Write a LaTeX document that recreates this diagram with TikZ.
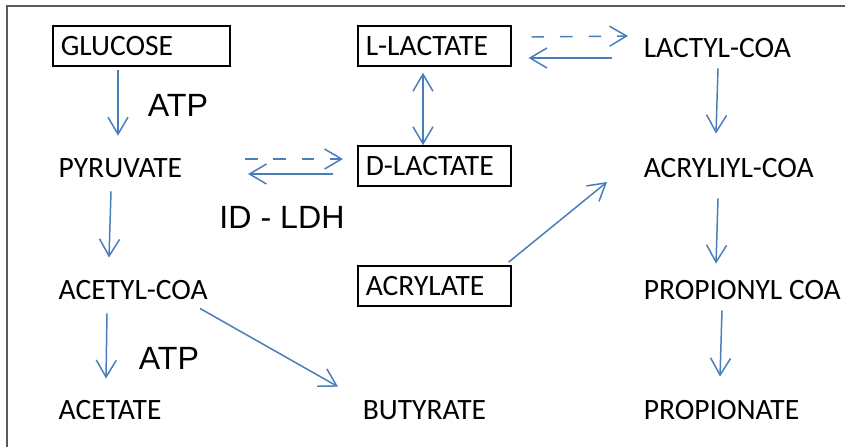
\documentclass[tikz,border=0pt]{standalone}
\usepackage{fontspec}
\setmainfont{Carlito}
\newfontfamily\arialfont{Liberation Sans}
\usetikzlibrary{arrows.meta, positioning, calc}
\definecolor{arrowblue}{RGB}{74,126,187}
\definecolor{framegray}{RGB}{90,90,90}

\begin{document}
\begin{tikzpicture}[x=0.02cm, y=-0.02cm, ->, >={Straight Barb[length=0.34cm, width=0.4cm]},
  line width=0.85pt, arrowblue,
  box node/.style={rectangle, draw=black, line width=0.9pt, text=black, anchor=west,
    minimum height=0.8cm, text width=2.74cm, inner xsep=0.16cm, align=left,
    font=\fontsize{16.8pt}{19pt}\selectfont},
  txt node/.style={anchor=west, inner sep=0pt, text=black, font=\fontsize{16.8pt}{19pt}\selectfont},
  lbl node/.style={inner sep=0pt, text=black, font=\arialfont\fontsize{18.3pt}{21pt}\selectfont},
  dsh/.style={dash pattern=on 0.25cm off 0.32cm}]
  \useasboundingbox (0,0) rectangle (845,447);
  \draw[-, framegray, line width=1.1pt] (845,6) -- (7,6) -- (7,447);

  \node[box node, text width=3.22cm] (glc) at (52,46) {GLUCOSE};
  \node[box node] (llac) at (357,46) {L-LACTATE};
  \node[txt node] (lcoa) at (643,48) {LACTYL-COA};
  \node[txt node] (pyr) at (58,168) {PYRUVATE};
  \node[box node] (dlac) at (357,166) {D-LACTATE};
  \node[txt node] (acoa) at (643,168) {ACRYLIYL-COA};
  \node[txt node] (acet) at (58,290) {ACETYL-COA};
  \node[box node] (acrl) at (357,286) {ACRYLATE};
  \node[txt node] (prcoa) at (643,290) {PROPIONYL COA};
  \node[txt node] (ace) at (58,410) {ACETATE};
  \node[txt node] (but) at (362,410) {BUTYRATE};
  \node[txt node] (prop) at (643,410) {PROPIONATE};

  \node[lbl node] (atp1) at (178,105) {ATP};
  \node[lbl node] (ldh) at (282,217) {ID - LDH};
  \node[lbl node] (atp2) at (169,358) {ATP};

  \draw ($(glc.south west)+(66,3)$) -- ($(pyr.north west)+(60,-22)$);
  \draw ($(pyr.south west)+(53,13)$) -- ($(acet.north west)+(51,-22)$);
  \draw ($(acet.south west)+(49,13)$) -- ($(ace.north west)+(48,-21)$);
  \draw ($(acet.south west)+(142,8)$) -- ($(but.north west)+(-24,-13)$);
  \draw[<->] ($(llac.south west)+(66,6)$) -- ($(dlac.north west)+(66,0)$);
  \draw[dsh] ($(pyr.west)+(187,-9)$) -- ($(dlac.west)+(-14,-7)$);
  \draw ($(dlac.west)+(-24,8)$) -- ($(pyr.west)+(190,6)$);
  \draw[dsh] ($(llac.east)+(20,-9)$) -- ($(lcoa.west)+(-15,-12)$);
  \draw ($(lcoa.west)+(-31,10)$) -- ($(llac.east)+(17,12)$);
  \draw ($(lcoa.south west)+(75,10)$) -- ($(acoa.north west)+(73,-24)$);
  \draw ($(acrl.north east)+(-3,-3)$) -- ($(acoa.west)+(-36,14)$);
  \draw ($(acoa.south west)+(75,20)$) -- ($(prcoa.north west)+(73,-16)$);
  \draw ($(prcoa.south west)+(79,10)$) -- ($(prop.north west)+(77,-23)$);
\end{tikzpicture}
\end{document}
